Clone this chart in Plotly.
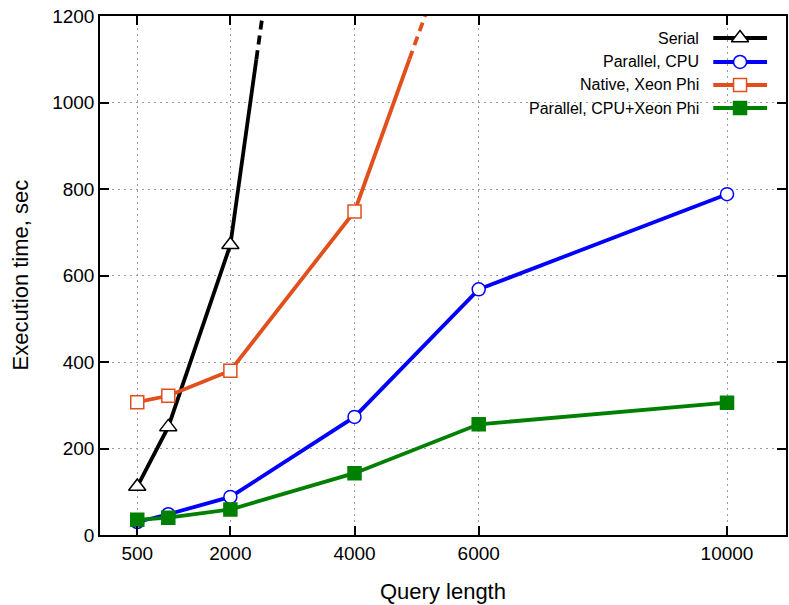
import plotly.graph_objects as go

# ---------------- data ----------------
query_len = [500, 1000, 2000, 4000, 6000, 10000]
x_tick_vals = [500, 2000, 4000, 6000, 10000]
y_tick_vals = [0, 200, 400, 600, 800, 1000, 1200]

serial_x = [500, 1000, 2000]
serial_y = [112, 250, 671]
serial_next_x = 4000          # off-chart continuation
serial_next_y = 2720

cpu_y = [30, 48, 88, 273, 568, 788]

phi_x = [500, 1000, 2000, 4000]
phi_y = [307, 322, 380, 748]
phi_next_x = 6000             # off-chart continuation
phi_next_y = 1545

hybrid_y = [35, 40, 59, 143, 256, 306]

DASH_FROM = 1100  # values above this are drawn dashed

BLACK = "#000000"
BLUE = "#0000ff"
ORANGE = "#e14f1c"
GREEN = "#008000"
FONT = "Liberation Sans, Arial, sans-serif"

LW = 3.8


def crossing(x0, y0, x1, y1, yc):
    t = (yc - y0) / (y1 - y0)
    return x0 + t * (x1 - x0)


fig = go.Figure()

# white background under legend (covers gridlines)
fig.add_shape(type="rect", xref="paper", yref="paper", x0=0.538, x1=1.0,
              y0=0.805, y1=1.0, fillcolor="white", line=dict(width=0),
              layer="between")


def add_series(xs, ys, color, symbol, fill, size, nx=None, ny=None):
    if nx is not None:
        xc = crossing(xs[-1], ys[-1], nx, ny, DASH_FROM)
        fig.add_trace(go.Scatter(x=[xs[-1], xc], y=[ys[-1], DASH_FROM], mode="lines",
                                 line=dict(color=color, width=LW), showlegend=False,
                                 hoverinfo="skip"))
        fig.add_trace(go.Scatter(x=[xc, nx], y=[DASH_FROM, ny], mode="lines",
                                 line=dict(color=color, width=LW, dash="9px,6px"),
                                 showlegend=False, hoverinfo="skip"))
    fig.add_trace(go.Scatter(
        x=xs, y=ys, mode="lines+markers",
        line=dict(color=color, width=LW),
        marker=dict(symbol=symbol, size=size, color=fill,
                    line=dict(color=color, width=1.5)),
        showlegend=False))


add_series(serial_x, serial_y, BLACK, "triangle-up", "white", 15, serial_next_x, serial_next_y)
add_series(query_len, cpu_y, BLUE, "circle", "white", 13)
add_series(phi_x, phi_y, ORANGE, "square", "white", 13, phi_next_x, phi_next_y)
add_series(query_len, hybrid_y, GREEN, "square", GREEN, 13)

# ---------------- custom legend (text left of sample) ----------------
legend_names = ["Serial", "Parallel, CPU", "Native, Xeon Phi", "Parallel, CPU+Xeon Phi"]
legend_colors = [BLACK, BLUE, ORANGE, GREEN]
legend_symbols = ["triangle-up", "circle", "square", "square"]
legend_fills = ["white", "white", "white", GREEN]
legend_sizes = [15, 13, 13, 13]
legend_rows = [0.9576, 0.9114, 0.8671, 0.8227]
lx0, lx1, lxm, ltext = 0.894, 0.9724, 0.933, 0.8765

for name, c, s, f, sz, ry in zip(legend_names, legend_colors, legend_symbols, legend_fills,
                                 legend_sizes, legend_rows):
    fig.add_trace(go.Scatter(x=[lx0, lx1], y=[ry, ry], mode="lines",
                             line=dict(color=c, width=LW), xaxis="x2", yaxis="y2",
                             showlegend=False, hoverinfo="skip"))
    fig.add_trace(go.Scatter(x=[lxm], y=[ry], mode="markers",
                             marker=dict(symbol=s, size=sz, color=f, line=dict(color=c, width=1.5)),
                             xaxis="x2", yaxis="y2", showlegend=False, hoverinfo="skip"))
    fig.add_annotation(x=ltext, y=ry, xref="paper", yref="paper", text=name,
                       showarrow=False, xanchor="right", yanchor="middle",
                       font=dict(family=FONT, size=16, color="black"))

# axis titles
fig.add_annotation(x=0.5, y=0, xref="paper", yref="paper", text="Query length",
                   showarrow=False, xanchor="center", yanchor="middle", yshift=-56,
                   font=dict(family=FONT, size=22, color="black"))
fig.add_annotation(x=0, y=0.5, xref="paper", yref="paper", text="Execution time, sec",
                   showarrow=False, xanchor="center", yanchor="middle", xshift=-80,
                   textangle=-90, font=dict(family=FONT, size=22, color="black"))

axis_common = dict(showline=True, linecolor="black", linewidth=1.5, mirror="ticks",
                   ticks="inside", ticklen=9, tickwidth=1.5, tickcolor="black",
                   showgrid=True, gridcolor="#9a9a9a", gridwidth=1, griddash="2px,4px",
                   zeroline=False, tickfont=dict(family=FONT, size=19, color="black"))

fig.update_layout(
    width=789, height=605,
    margin=dict(l=100, r=1, t=16, b=70),
    plot_bgcolor="white", paper_bgcolor="white",
    showlegend=False,
    xaxis=dict(range=[-100, 10950], tickvals=x_tick_vals, ticktext=[str(v) for v in x_tick_vals],
               **axis_common),
    yaxis=dict(range=[0, 1200], tickvals=y_tick_vals, **axis_common),
    xaxis2=dict(overlaying="x", range=[0, 1], visible=False, showgrid=False),
    yaxis2=dict(overlaying="y", range=[0, 1], visible=False, showgrid=False),
)

# remove the default 8px page margin so the figure fills the window exactly
fig.write_html("out.html", config={"displayModeBar": False},
               post_script="document.body.style.margin='0';")
